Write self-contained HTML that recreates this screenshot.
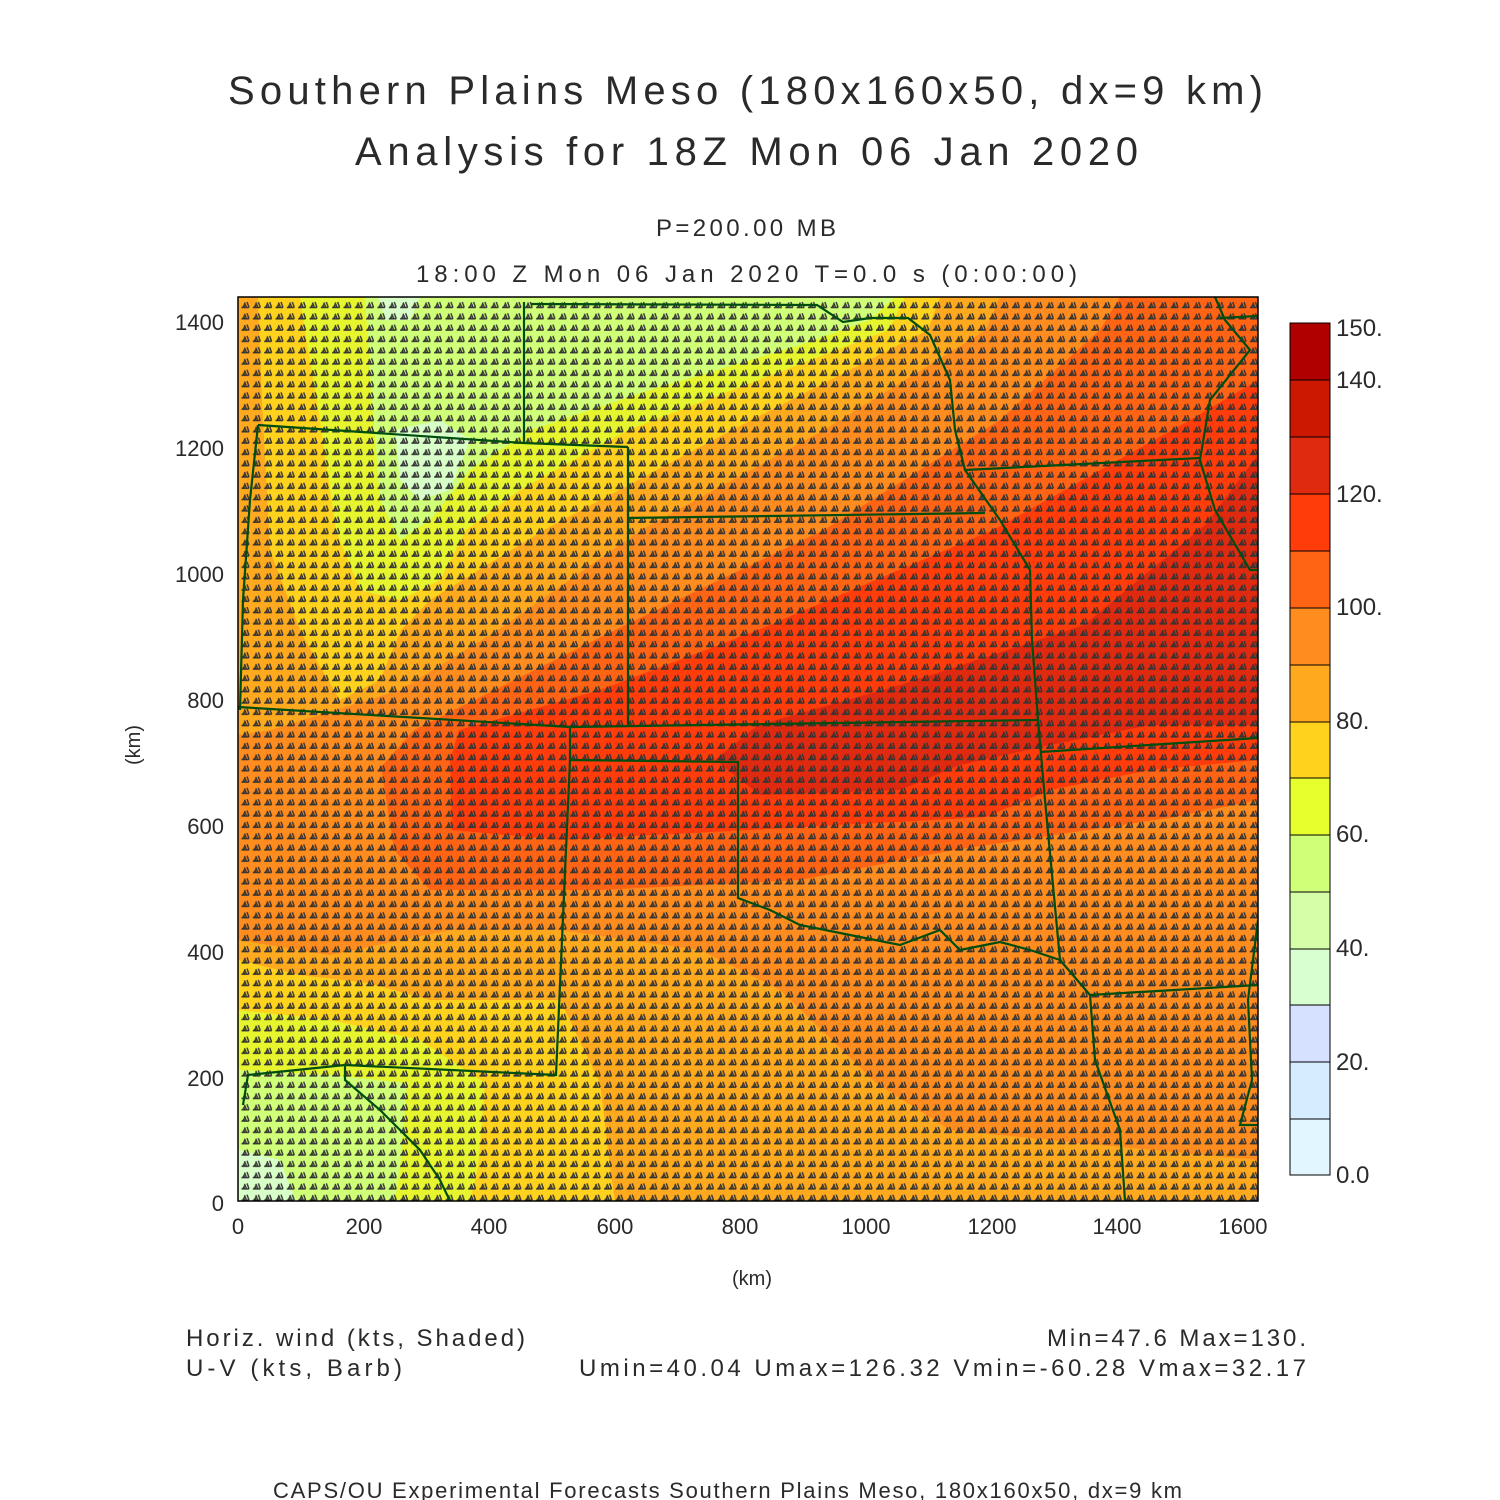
<!DOCTYPE html>
<html><head><meta charset="utf-8"><style>
html,body{margin:0;padding:0;background:#fff;}
svg{display:block;}
text{font-family:"Liberation Sans",sans-serif;fill:#2a2a2a;}
</style></head><body>
<svg width="1500" height="1500" viewBox="0 0 1500 1500" xmlns="http://www.w3.org/2000/svg">
<defs>
<clipPath id="cp"><rect x="238" y="297" width="1020" height="904"/></clipPath>
<pattern id="barb" x="240" y="300" width="11.33" height="11.3" patternUnits="userSpaceOnUse">
<path d="M1.5,7.5 H9 M9,7.5 L7,2 M6.5,7.5 L4.5,2.5" stroke="#333" stroke-width="1.4" fill="none"/>
<path d="M2,7.5 L4.5,3 L5,7.5 Z" fill="#333"/>
</pattern>
</defs>
<g clip-path="url(#cp)">
<rect x="238" y="297" width="1020" height="904" fill="#ff8c1e"/>
<polygon fill="#ffaa1e" points="238,297 1000,297 986,330 824,430 641,530 498,630 400,690 271,730 238,735"/>
<polygon fill="#ffd21e" points="258,297 940,297 928,330 732,430 544,530 430,600 401,630 380,680 340,700 316,660 300,630 270,550 262,400"/>
<polygon fill="#e6f52d" points="300,297 905,297 889,330 628,430 520,490 466,530 440,580 400,600 360,590 336,530 320,420 305,330"/>
<polygon fill="#d0ff78" points="365,297 895,297 870,320 800,345 650,390 531,430 470,470 430,520 400,540 380,500 372,400"/>
<polygon fill="#d8ffc8" points="395,430 440,420 470,440 450,490 420,500 400,480"/>
<polygon fill="#d8ffc8" points="378,297 420,297 410,320 385,320"/>
<polygon fill="#ffaa1e" points="238,940 330,955 450,930 560,930 700,950 780,990 876,1083 950,1130 1100,1145 1258,1160 1258,1201 238,1201"/>
<polygon fill="#ffd21e" points="238,960 300,975 368,983 430,1000 560,1000 600,1083 610,1167 615,1201 238,1201"/>
<polygon fill="#e6f52d" points="238,1010 330,1020 420,1040 485,1083 478,1167 470,1201 238,1201"/>
<polygon fill="#d0ff78" points="238,1070 330,1075 407,1083 400,1167 395,1201 238,1201"/>
<polygon fill="#d8ffc8" points="238,1150 280,1160 296,1201 238,1201"/>
<polygon fill="#ff6414" points="1120,297 1258,297 1258,800 1175,817 954,850 800,880 600,890 430,890 394,850 381,767 414,730 615,630 824,530 1000,420 1100,330"/>
<polygon fill="#ff3c0a" points="1258,380 1190,420 993,530 758,630 600,690 459,730 450,760 452,830 560,840 750,830 986,817 1050,790 1150,770 1258,760"/>
<polygon fill="#e02a10" points="1258,455 1205,525 1084,625 900,685 758,725 715,760 760,795 900,790 960,765 1050,745 1150,725 1258,725"/>
<rect x="238" y="297" width="1020" height="904" fill="url(#barb)"/>
<g stroke="#004d10" stroke-width="2.2" fill="none">
<polyline points="531,304 817,305 843,322 870,318 908,318 930,335 950,380 955,430 965,470 1000,520 1030,570 1032,640 1038,720"/>
<polyline points="258,425 524,443 628,447"/>
<polyline points="524,302 524,443"/>
<polyline points="628,447 628,727"/>
<polyline points="628,518 985,513"/>
<polyline points="965,470 1200,458"/>
<polyline points="238,707 570,727 1038,720"/>
<polyline points="570,727 570,760 738,762 738,898 770,910 800,925 850,935 900,945 940,930 960,950 1000,942 1030,950 1060,960"/>
<polyline points="1038,720 1045,800 1060,960 1090,995 1095,1060 1120,1130 1125,1201"/>
<polyline points="570,760 556,1075 345,1065 248,1075 243,1105"/>
<polyline points="345,1065 345,1080 380,1110 420,1150 440,1180 450,1201"/>
<polyline points="258,425 250,500 243,600 240,710"/>
<polyline points="1040,752 1258,738"/>
<polyline points="1090,995 1258,985"/>
<polyline points="1215,297 1225,320 1250,350 1210,400 1200,460 1215,510 1250,570 1258,570"/>
<polyline points="1220,318 1258,316"/>
<polyline points="1258,920 1248,1000 1252,1080 1240,1125 1258,1125"/>
</g>
</g>
<rect x="238" y="297" width="1020" height="904" fill="none" stroke="#000" stroke-width="1.5"/>
<g stroke="#000" stroke-width="1">
<rect x="1290" y="323" width="40" height="57" fill="#b00000"/>
<rect x="1290" y="380" width="40" height="57" fill="#cc1800"/>
<rect x="1290" y="437" width="40" height="57" fill="#e02a10"/>
<rect x="1290" y="494" width="40" height="57" fill="#ff3c0a"/>
<rect x="1290" y="551" width="40" height="57" fill="#ff6414"/>
<rect x="1290" y="608" width="40" height="57" fill="#ff8c1e"/>
<rect x="1290" y="665" width="40" height="57" fill="#ffaa1e"/>
<rect x="1290" y="722" width="40" height="56" fill="#ffd21e"/>
<rect x="1290" y="778" width="40" height="57" fill="#e6ff2d"/>
<rect x="1290" y="835" width="40" height="57" fill="#d0ff78"/>
<rect x="1290" y="892" width="40" height="57" fill="#d4ffa8"/>
<rect x="1290" y="949" width="40" height="56" fill="#d8ffd0"/>
<rect x="1290" y="1005" width="40" height="57" fill="#d6e0ff"/>
<rect x="1290" y="1062" width="40" height="57" fill="#d6ecff"/>
<rect x="1290" y="1119" width="40" height="56" fill="#e2f6ff"/>
</g>
<g font-size="24">
<text x="1336" y="336">150.</text>
<text x="1336" y="388">140.</text>
<text x="1336" y="502">120.</text>
<text x="1336" y="615">100.</text>
<text x="1336" y="729">80.</text>
<text x="1336" y="842">60.</text>
<text x="1336" y="956">40.</text>
<text x="1336" y="1070">20.</text>
<text x="1336" y="1183">0.0</text>
</g>
<text x="228" y="104" font-size="40" textLength="1035" lengthAdjust="spacing">Southern Plains Meso (180x160x50, dx=9 km)</text>
<text x="355" y="165" font-size="40" textLength="783" lengthAdjust="spacing">Analysis for 18Z Mon 06 Jan 2020</text>
<text x="656" y="236" font-size="24" textLength="180" lengthAdjust="spacing">P=200.00 MB</text>
<text x="416" y="282" font-size="24" textLength="661" lengthAdjust="spacing">18:00 Z Mon 06 Jan 2020    T=0.0 s (0:00:00)</text>
<g font-size="22" text-anchor="end">
<text x="224" y="330">1400</text>
<text x="224" y="456">1200</text>
<text x="224" y="582">1000</text>
<text x="224" y="708">800</text>
<text x="224" y="834">600</text>
<text x="224" y="960">400</text>
<text x="224" y="1086">200</text>
<text x="224" y="1211">0</text>
</g>
<g font-size="22" text-anchor="middle">
<text x="238" y="1234">0</text>
<text x="364" y="1234">200</text>
<text x="489" y="1234">400</text>
<text x="615" y="1234">600</text>
<text x="740" y="1234">800</text>
<text x="866" y="1234">1000</text>
<text x="992" y="1234">1200</text>
<text x="1117" y="1234">1400</text>
<text x="1243" y="1234">1600</text>
<text x="752" y="1285" font-size="20">(km)</text>
</g>
<text x="0" y="0" font-size="20" text-anchor="middle" transform="translate(140,745) rotate(-90)">(km)</text>
<g font-size="24">
<text x="186" y="1346" textLength="339" lengthAdjust="spacing">Horiz. wind (kts, Shaded)</text>
<text x="186" y="1376" textLength="216" lengthAdjust="spacing">U-V (kts, Barb)</text>
<text x="1047" y="1346" textLength="259" lengthAdjust="spacing">Min=47.6  Max=130.</text>
<text x="579" y="1376" textLength="727" lengthAdjust="spacing">Umin=40.04 Umax=126.32 Vmin=-60.28 Vmax=32.17</text>
<text x="273" y="1498" font-size="22" textLength="909" lengthAdjust="spacing">CAPS/OU Experimental Forecasts   Southern Plains Meso, 180x160x50, dx=9 km</text>
</g>
</svg>
</body></html>
